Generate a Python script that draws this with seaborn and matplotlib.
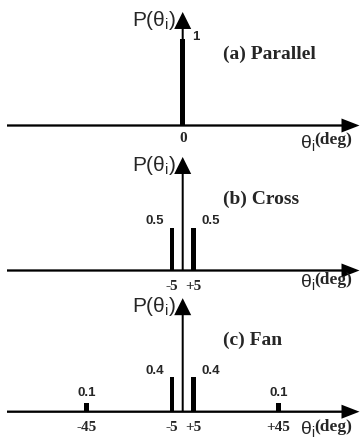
import numpy as np
import pandas as pd
import matplotlib
matplotlib.use("Agg")
import matplotlib.pyplot as plt
import seaborn as sns

# ---------------- data ----------------
panel_titles = ["(a) Parallel", "(b) Cross", "(c) Fan"]
angles_a = [0]
probs_a = [1.0]
angles_b = [-5, 5]
probs_b = [0.5, 0.5]
angles_c = [-45, -5, 5, 45]
probs_c = [0.1, 0.4, 0.4, 0.1]
ticks_a = ["0"]
ticks_b = ["-5", "+5"]
ticks_c = ["-45", "-5", "+5", "+45"]
y_label = "P(θ$_\\mathregular{i}$)"
x_symbol = "θ$_\\mathregular{i}$"
x_unit = "(deg)"

# ---------------- style / layout ----------------
sns.set_theme(style="white")
plt.rcParams["font.family"] = ["Liberation Sans", "DejaVu Sans"]
SERIF = ["Liberation Serif", "DejaVu Serif"]

W, H = 360, 445
X0, SX, SY = 182.7, 2.133, 86.0          # px of x=0, px per degree, px per unit prob
bands = [(0, 150, 125.5), (150, 295, 270.5), (295, 445, 411.7)]  # top, bottom, baseline (px)
tick_pad = [6.5, 9.5, 9.0]
xlab_drop = [18, 12, 18]
BAR_DEG = 2.2

fig = plt.figure(figsize=(W / 100, H / 100), dpi=100)
fig.patch.set_facecolor("white")

panels = [(angles_a, probs_a, ticks_a), (angles_b, probs_b, ticks_b),
          (angles_c, probs_c, ticks_c)]

for i, ((ang, pr, tk), (top, bot, base)) in enumerate(zip(panels, bands)):
    ax = fig.add_axes([0, 1 - bot / H, 1, (bot - top) / H])
    ax.patch.set_alpha(0)
    df = pd.DataFrame({"angle": ang, "prob": pr})
    spacing = np.min(np.diff(sorted(ang))) if len(ang) > 1 else 1
    sns.barplot(data=df, x="angle", y="prob", native_scale=True,
                width=BAR_DEG / spacing, color="black", saturation=1,
                errorbar=None, linewidth=0, ax=ax)
    ax.set_xlim(-X0 / SX, (W - X0) / SX)
    ax.set_ylim(-(bot - base) / SY, (base - top) / SY)
    ax.set_axis_off()

    # horizontal axis arrow
    x_start = (7 - X0) / SX
    x_tip = (W - 0.5 - X0) / SX
    ax.arrow(x_start, 0, x_tip - x_start, 0, width=2.3 / SY,
             head_width=14 / SY, head_length=18 / SX,
             length_includes_head=True, color="black", lw=0, clip_on=False,
             zorder=3)
    # vertical axis arrow
    ax.arrow(0, 0, 0, 1.32, width=2.0 / SX, head_width=17 / SX,
             head_length=17 / SY, length_includes_head=True, color="black",
             lw=0, clip_on=False, zorder=3)

    # value labels and tick labels
    for ang_v, v, t in zip(ang, pr, tk):
        if ang_v == 0:
            dx, dy = 13, 2.5
        elif abs(ang_v) < 10:
            dx, dy = 17 * np.sign(ang_v), 6
        else:
            dx, dy = 0, 10
        ax.annotate(f"{v:g}", xy=(ang_v, v), xytext=(dx, dy), textcoords="offset pixels",
                    ha="center", va="center", fontsize=9.5, fontweight="bold",
                    annotation_clip=False)
        ax.annotate(t, xy=(ang_v, 0), xytext=(0, -tick_pad[i]), textcoords="offset pixels",
                    ha="center", va="top", fontsize=11, fontweight="bold",
                    family=SERIF, annotation_clip=False)

    # panel title
    ax.annotate(panel_titles[i], xy=(0, 0), xytext=(40.3, 71.5),
                textcoords="offset pixels", ha="left", va="center",
                fontsize=14, fontweight="bold", family=SERIF, annotation_clip=False)
    # y label
    ax.annotate(y_label, xy=(0, 0), xytext=(-6.5, 105), textcoords="offset pixels",
                ha="right", va="center", fontsize=15, annotation_clip=False)
    # x label
    ax.annotate(x_symbol, xy=(0, 0), xytext=(125.3, -xlab_drop[i]),
                textcoords="offset pixels", ha="center", va="center",
                fontsize=14, annotation_clip=False)
    ax.annotate(x_unit, xy=(0, 0), xytext=(131.5, -(xlab_drop[i] - 3)),
                textcoords="offset pixels", ha="left", va="center",
                fontsize=12.5, fontweight="bold", family=SERIF, annotation_clip=False)

fig.savefig("out.png", dpi=100)
